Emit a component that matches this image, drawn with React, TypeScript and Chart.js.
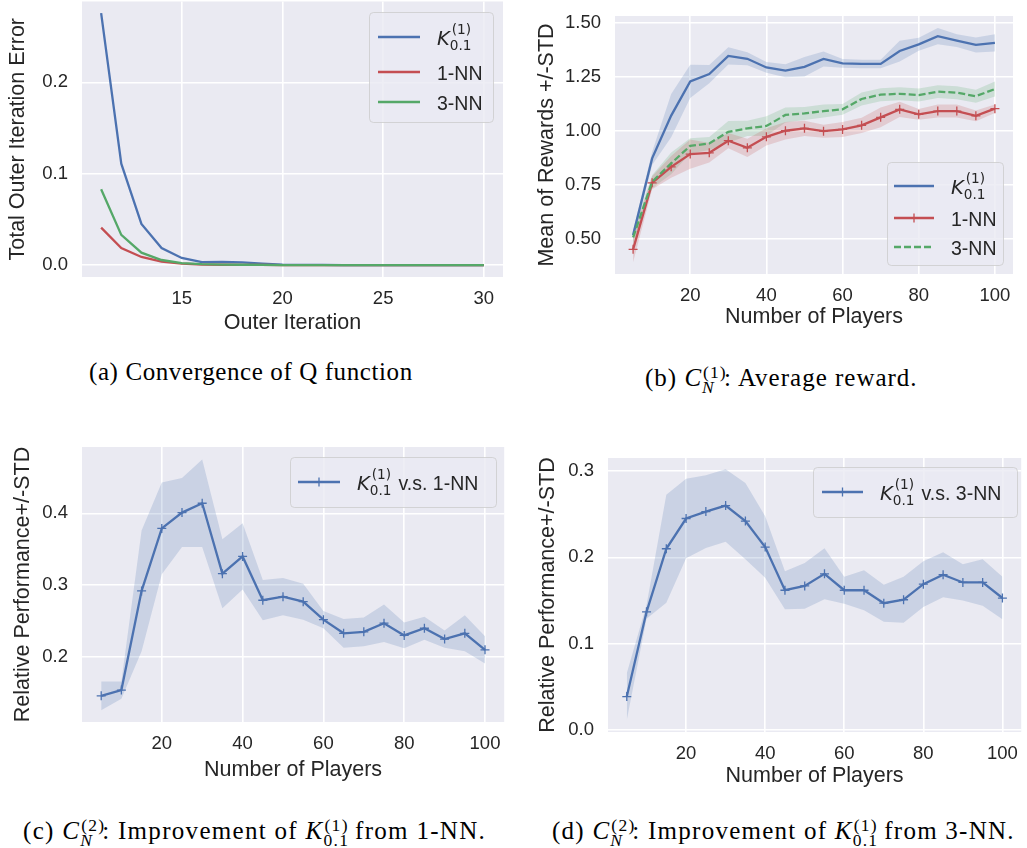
import React, { useEffect, useRef } from "react";
import { Chart, registerables } from "chart.js";

Chart.register(...registerables);

// ---------------- data ----------------
const outerIterations = [11, 12, 13, 14, 15, 16, 17, 18, 19, 20, 21, 22, 23, 24, 25, 26, 27, 28, 29, 30];
const errorK = [0.2757, 0.111, 0.045, 0.0186, 0.0077, 0.0032, 0.0033, 0.0029, 0.0016, 0.0005, 0.0002, 0.0001, 0, 0, 0, 0, 0, 0, 0, 0];
const error1NN = [0.041, 0.0186, 0.0088, 0.0038, 0.0015, 0.0006, 0.0003, 0.0002, 0.0001, 0, 0, 0, 0, 0, 0, 0, 0, 0, 0, 0];
const error3NN = [0.083, 0.033, 0.0135, 0.0055, 0.0022, 0.001, 0.0005, 0.0003, 0.0001, 0, 0, 0, 0, 0, 0, 0, 0, 0, 0, 0];

const numPlayers = [5, 10, 15, 20, 25, 30, 35, 40, 45, 50, 55, 60, 65, 70, 75, 80, 85, 90, 95, 100];
const rewardK = [0.517, 0.872, 1.07, 1.228, 1.262, 1.346, 1.333, 1.293, 1.278, 1.296, 1.332, 1.312, 1.309, 1.309, 1.369, 1.4, 1.438, 1.417, 1.397, 1.407];
const rewardKStd = [0.02, 0.03, 0.1, 0.077, 0.042, 0.04, 0.03, 0.025, 0.03, 0.045, 0.035, 0.02, 0.02, 0.02, 0.048, 0.03, 0.038, 0.03, 0.035, 0.04];
const reward1NN = [0.451, 0.759, 0.833, 0.892, 0.898, 0.954, 0.921, 0.972, 1.0, 1.011, 0.998, 1.006, 1.025, 1.062, 1.099, 1.076, 1.091, 1.091, 1.069, 1.102];
const reward1NNStd = [0.06, 0.03, 0.05, 0.068, 0.045, 0.035, 0.042, 0.04, 0.04, 0.035, 0.03, 0.035, 0.035, 0.046, 0.035, 0.025, 0.03, 0.03, 0.025, 0.02];
const reward3NN = [0.506, 0.764, 0.849, 0.93, 0.941, 0.995, 1.011, 1.022, 1.073, 1.08, 1.091, 1.099, 1.147, 1.167, 1.171, 1.165, 1.181, 1.176, 1.16, 1.193];
const reward3NNStd = [0.03, 0.03, 0.05, 0.035, 0.03, 0.05, 0.035, 0.045, 0.035, 0.03, 0.03, 0.025, 0.03, 0.03, 0.03, 0.03, 0.03, 0.03, 0.03, 0.035];

const relVs1NN = [0.146, 0.154, 0.292, 0.379, 0.401, 0.414, 0.316, 0.34, 0.279, 0.284, 0.277, 0.252, 0.233, 0.235, 0.247, 0.23, 0.24, 0.225, 0.233, 0.21];
const relVs1NNStd = [0.02, 0.012, 0.084, 0.064, 0.048, 0.061, 0.048, 0.046, 0.028, 0.026, 0.025, 0.012, 0.02, 0.02, 0.026, 0.018, 0.016, 0.012, 0.025, 0.019];
const relVs3NN = [0.039, 0.137, 0.21, 0.245, 0.253, 0.26, 0.242, 0.212, 0.162, 0.167, 0.181, 0.162, 0.162, 0.147, 0.151, 0.169, 0.18, 0.171, 0.171, 0.153];
const relVs3NNStd = [0.027, 0.008, 0.0625, 0.046, 0.042, 0.042, 0.044, 0.0355, 0.022, 0.0265, 0.0295, 0.0155, 0.023, 0.0215, 0.0265, 0.0265, 0.026, 0.021, 0.027, 0.0245];

const iterTicks = [15, 20, 25, 30];
const errorTicks = [0, 0.1, 0.2];
const playerTicks = [20, 40, 60, 80, 100];
const rewardTicks = [0.5, 0.75, 1.0, 1.25, 1.5];
const rel1Ticks = [0.2, 0.3, 0.4];
const rel3Ticks = [0, 0.1, 0.2, 0.3];

// ---------------- styles ----------------
const BLUE = "#4C72B0";
const RED = "#C44E52";
const GREEN = "#55A868";
const BG = "#EAEAF2";
const TEXT = "#262626";
const SANS = '"Liberation Sans", Arial, sans-serif';
const MATH = '"DejaVu Sans", sans-serif';
const SERIF = '"Liberation Serif", "Times New Roman", serif';
const TICK_SIZE = 18.5;
const TITLE_SIZE = 21.5;
const LEGEND_SIZE = 19.5;
const LW = 2.3;

type Box = { left: number; top: number; width: number; height: number };
type Area = { L: number; T: number; R: number; B: number };
interface LegendItem { color: string; dash?: number[]; marker?: boolean; math?: boolean; text: string; y: number }
interface LegendSpec { x: number; y: number; w: number; h: number; lineX1: number; lineX2: number; textX: number; items: LegendItem[] }
interface PanelSpec {
  canvas: Box; area: Area;
  xMin: number; xMax: number; yMin: number; yMax: number;
  xTicks: number[]; yTicks: number[]; yDecimals: number;
  xTitle: string; yTitle: string; yTitleX: number; xTitleY: number;
  datasets: any[]; legend: LegendSpec;
}

function xy(xs: number[], ys: number[]) {
  return xs.map((x, i) => ({ x, y: ys[i] }));
}

function rgba(hex: string, a: number) {
  const n = parseInt(hex.slice(1), 16);
  return `rgba(${(n >> 16) & 255},${(n >> 8) & 255},${n & 255},${a})`;
}

function bandSets(xs: number[], mean: number[], std: number[], color: string) {
  return [
    { data: xs.map((x, i) => ({ x, y: mean[i] - std[i] })), borderWidth: 0, borderColor: "rgba(0,0,0,0)", pointRadius: 0, fill: false, order: 10 },
    { data: xs.map((x, i) => ({ x, y: mean[i] + std[i] })), borderWidth: 0, borderColor: "rgba(0,0,0,0)", pointRadius: 0, fill: "-1", backgroundColor: rgba(color, 0.2), order: 10 },
  ];
}

function lineSet(xs: number[], ys: number[], color: string, order: number, marker: boolean, dash?: number[]) {
  return {
    data: xy(xs, ys), borderColor: color, borderWidth: LW, borderDash: dash || [], fill: false, tension: 0,
    pointRadius: marker ? 4.5 : 0, pointStyle: "cross", pointBorderColor: color, pointBorderWidth: 1.3, order,
  };
}

function drawCross(ctx: CanvasRenderingContext2D, x: number, y: number, r: number) {
  ctx.beginPath();
  ctx.moveTo(x - r, y); ctx.lineTo(x + r, y);
  ctx.moveTo(x, y - r); ctx.lineTo(x, y + r);
  ctx.stroke();
}

function drawK(ctx: CanvasRenderingContext2D, x: number, yc: number, size: number) {
  ctx.font = `italic ${size}px ${MATH}`;
  ctx.fillText("K", x, yc + 8);
  const kw = ctx.measureText("K").width;
  const s = size * 0.7;
  ctx.font = `${s}px ${MATH}`;
  ctx.fillText("(1)", x + kw + 2, yc - 3);
  ctx.fillText("0.1", x + kw, yc + 13);
  const w = Math.max(ctx.measureText("(1)").width + 2, ctx.measureText("0.1").width);
  return x + kw + w;
}

function makePlugins(spec: PanelSpec) {
  const ox = spec.canvas.left;
  const oy = spec.canvas.top;
  return [
    {
      id: "axesBg",
      beforeDraw(chart: any) {
        const { ctx, chartArea: a } = chart;
        ctx.save();
        ctx.fillStyle = BG;
        ctx.fillRect(a.left, a.top, a.right - a.left, a.bottom - a.top);
        ctx.restore();
      },
    },
    {
      id: "mathLegend",
      afterDraw(chart: any) {
        const ctx: CanvasRenderingContext2D = chart.ctx;
        const lg = spec.legend;
        ctx.save();
        ctx.beginPath();
        (ctx as any).roundRect(lg.x - ox + 0.5, lg.y - oy + 0.5, lg.w, lg.h, 4);
        ctx.fillStyle = "rgba(234,234,242,0.8)";
        ctx.fill();
        ctx.strokeStyle = "rgba(204,204,204,0.8)";
        ctx.lineWidth = 1;
        ctx.stroke();
        for (const it of lg.items) {
          const y = it.y - oy;
          ctx.strokeStyle = it.color;
          ctx.lineWidth = LW;
          ctx.setLineDash(it.dash || []);
          ctx.beginPath();
          ctx.moveTo(lg.lineX1 - ox, y);
          ctx.lineTo(lg.lineX2 - ox, y);
          ctx.stroke();
          ctx.setLineDash([]);
          if (it.marker) {
            ctx.lineWidth = 1.3;
            drawCross(ctx, (lg.lineX1 + lg.lineX2) / 2 - ox, y, 4.5);
          }
          ctx.fillStyle = TEXT;
          ctx.textAlign = "left";
          ctx.textBaseline = "alphabetic";
          let x = lg.textX - ox;
          if (it.math) {
            x = drawK(ctx, x, y, LEGEND_SIZE);
            if (it.text) x += 7;
          }
          if (it.text) {
            ctx.font = `${LEGEND_SIZE}px ${SANS}`;
            ctx.fillText(it.text, x, y + 7.5);
          }
        }
        ctx.restore();
      },
    },
  ];
}

function buildConfig(spec: PanelSpec): any {
  const { canvas, area } = spec;
  const lh = TITLE_SIZE * 1.2;
  const cBottom = canvas.top + canvas.height;
  return {
    type: "line",
    data: { datasets: spec.datasets },
    plugins: makePlugins(spec),
    options: {
      responsive: false,
      animation: false,
      events: [],
      layout: { padding: { left: 0, top: area.T - canvas.top, right: canvas.left + canvas.width - area.R, bottom: 0 } },
      plugins: { legend: { display: false }, tooltip: { enabled: false }, title: { display: false } },
      scales: {
        x: {
          type: "linear", min: spec.xMin, max: spec.xMax,
          afterBuildTicks: (s: any) => { s.ticks = spec.xTicks.map((v) => ({ value: v })); },
          afterFit: (s: any) => { s.height = cBottom - area.B; s.paddingLeft = 0; s.paddingRight = 0; },
          grid: { color: "#ffffff", lineWidth: 1.6, drawTicks: false },
          border: { display: false },
          ticks: { color: TEXT, font: { family: SANS, size: TICK_SIZE }, padding: 11, autoSkip: false, maxRotation: 0, callback: (v: any) => String(v) },
          title: { display: true, text: spec.xTitle, color: TEXT, font: { family: SANS, size: TITLE_SIZE, lineHeight: 1.2 }, padding: { top: 0, bottom: cBottom - spec.xTitleY - lh / 2 } },
        },
        y: {
          type: "linear", min: spec.yMin, max: spec.yMax,
          afterBuildTicks: (s: any) => { s.ticks = spec.yTicks.map((v) => ({ value: v })); },
          afterFit: (s: any) => { s.width = area.L - canvas.left; s.paddingTop = 0; s.paddingBottom = 0; },
          grid: { color: "#ffffff", lineWidth: 1.6, drawTicks: false },
          border: { display: false },
          ticks: { color: TEXT, font: { family: SANS, size: TICK_SIZE }, padding: 14, autoSkip: false, callback: (v: any) => Number(v).toFixed(spec.yDecimals) },
          title: { display: true, text: spec.yTitle, color: TEXT, font: { family: SANS, size: TITLE_SIZE, lineHeight: 1.2 }, padding: { top: spec.yTitleX - canvas.left - lh / 2, bottom: 0 } },
        },
      },
    },
  };
}

// ---------------- panels ----------------
const panelA: PanelSpec = {
  canvas: { left: 0, top: 0, width: 510, height: 345 },
  area: { L: 82, T: 1.5, R: 503, B: 277 },
  xMin: 10.05, xMax: 30.95, yMin: -0.0131, yMax: 0.2885,
  xTicks: iterTicks, yTicks: errorTicks, yDecimals: 1,
  xTitle: "Outer Iteration", yTitle: "Total Outer Iteration Error", yTitleX: 18, xTitleY: 323,
  datasets: [
    lineSet(outerIterations, errorK, BLUE, 3, false),
    lineSet(outerIterations, error1NN, RED, 2, false),
    lineSet(outerIterations, error3NN, GREEN, 1, false),
  ],
  legend: {
    x: 369, y: 12, w: 124, h: 110, lineX1: 378, lineX2: 420, textX: 437,
    items: [
      { color: BLUE, math: true, text: "", y: 37 },
      { color: RED, text: "1-NN", y: 72 },
      { color: GREEN, text: "3-NN", y: 102 },
    ],
  },
};

const panelB: PanelSpec = {
  canvas: { left: 510, top: 0, width: 517, height: 345 },
  area: { L: 615, T: 16, R: 1013, B: 274 },
  xMin: 0.25, xMax: 104.75, yMin: 0.337, yMax: 1.531,
  xTicks: playerTicks, yTicks: rewardTicks, yDecimals: 2,
  xTitle: "Number of Players", yTitle: "Mean of Rewards +/-STD", yTitleX: 547, xTitleY: 317,
  datasets: [
    ...bandSets(numPlayers, rewardK, rewardKStd, BLUE),
    ...bandSets(numPlayers, reward1NN, reward1NNStd, RED),
    ...bandSets(numPlayers, reward3NN, reward3NNStd, GREEN),
    lineSet(numPlayers, rewardK, BLUE, 3, false),
    lineSet(numPlayers, reward1NN, RED, 2, true),
    lineSet(numPlayers, reward3NN, GREEN, 1, false, [7, 3]),
  ],
  legend: {
    x: 887, y: 162, w: 116, h: 103, lineX1: 894, lineX2: 934, textX: 951,
    items: [
      { color: BLUE, math: true, text: "", y: 186 },
      { color: RED, marker: true, text: "1-NN", y: 218 },
      { color: GREEN, dash: [7, 3], text: "3-NN", y: 247 },
    ],
  },
};

const panelC: PanelSpec = {
  canvas: { left: 0, top: 430, width: 510, height: 365 },
  area: { L: 82, T: 447, R: 505, B: 722 },
  xMin: 0.25, xMax: 104.75, yMin: 0.1095, yMax: 0.4923,
  xTicks: playerTicks, yTicks: rel1Ticks, yDecimals: 1,
  xTitle: "Number of Players", yTitle: "Relative Performance+/-STD", yTitleX: 23, xTitleY: 770,
  datasets: [
    ...bandSets(numPlayers, relVs1NN, relVs1NNStd, BLUE),
    lineSet(numPlayers, relVs1NN, BLUE, 1, true),
  ],
  legend: {
    x: 290, y: 457, w: 206, h: 50, lineX1: 298, lineX2: 340, textX: 357,
    items: [{ color: BLUE, marker: true, math: true, text: "v.s. 1-NN", y: 482 }],
  },
};

const panelD: PanelSpec = {
  canvas: { left: 510, top: 430, width: 517, height: 365 },
  area: { L: 608, T: 458, R: 1027, B: 732 },
  xMin: 0.25, xMax: 104.75, yMin: -0.002, yMax: 0.315,
  xTicks: playerTicks, yTicks: rel3Ticks, yDecimals: 1,
  xTitle: "Number of Players", yTitle: "Relative Performance+/-STD", yTitleX: 548.5, xTitleY: 776.5,
  datasets: [
    ...bandSets(numPlayers, relVs3NN, relVs3NNStd, BLUE),
    lineSet(numPlayers, relVs3NN, BLUE, 1, true),
  ],
  legend: {
    x: 813, y: 467, w: 204, h: 50, lineX1: 822, lineX2: 863, textX: 880,
    items: [{ color: BLUE, marker: true, math: true, text: "v.s. 3-NN", y: 492 }],
  },
};

// ---------------- components ----------------
function Panel({ spec }: { spec: PanelSpec }) {
  const ref = useRef<HTMLCanvasElement>(null);
  useEffect(() => {
    const chart = new Chart(ref.current as HTMLCanvasElement, buildConfig(spec));
    return () => chart.destroy();
  }, []);
  const c = spec.canvas;
  return (
    <canvas
      ref={ref}
      width={c.width}
      height={c.height}
      style={{ position: "absolute", left: c.left, top: c.top, width: c.width, height: c.height }}
    />
  );
}

function SupSub({ sup, sub, w }: { sup: React.ReactNode; sub: React.ReactNode; w: number }) {
  return (
    <span style={{ display: "inline-block", position: "relative", width: w, height: 25, verticalAlign: "baseline" }}>
      <span style={{ position: "absolute", left: 1, bottom: 5, fontSize: 17.5, lineHeight: "17.5px" }}>{sup}</span>
      <span style={{ position: "absolute", left: 0, top: 18.4, fontSize: 17.5, lineHeight: "17.5px" }}>{sub}</span>
    </span>
  );
}

function capStyle(left: number, baseline: number, ls: number): React.CSSProperties {
  return {
    position: "absolute", left, top: baseline - 21, fontFamily: SERIF, fontSize: 25, lineHeight: "25px",
    whiteSpace: "nowrap", letterSpacing: ls, color: "#000",
  };
}

export default function App() {
  return (
    <div style={{ position: "absolute", left: 0, top: 0, width: 1027, height: 848, background: "#ffffff", overflow: "hidden" }}>
      <Panel spec={panelA} />
      <Panel spec={panelB} />
      <Panel spec={panelC} />
      <Panel spec={panelD} />
      <div style={capStyle(89, 380, 0.6)}>(a) Convergence of Q function</div>
      <div style={capStyle(645, 382, 1.0)}>
        (b) <i>C</i><SupSub sup="(1)" sub={<i>N</i>} w={22} />: Average reward.
      </div>
      <div style={capStyle(23, 835, 1.3)}>
        (c) <i>C</i><SupSub sup="(2)" sub={<i>N</i>} w={22} />: Improvement of <i>K</i><SupSub sup="(1)" sub="0.1" w={24} /> from 1-NN.
      </div>
      <div style={capStyle(552, 835, 1.25)}>
        (d) <i>C</i><SupSub sup="(2)" sub={<i>N</i>} w={22} />: Improvement of <i>K</i><SupSub sup="(1)" sub="0.1" w={24} /> from 3-NN.
      </div>
    </div>
  );
}
